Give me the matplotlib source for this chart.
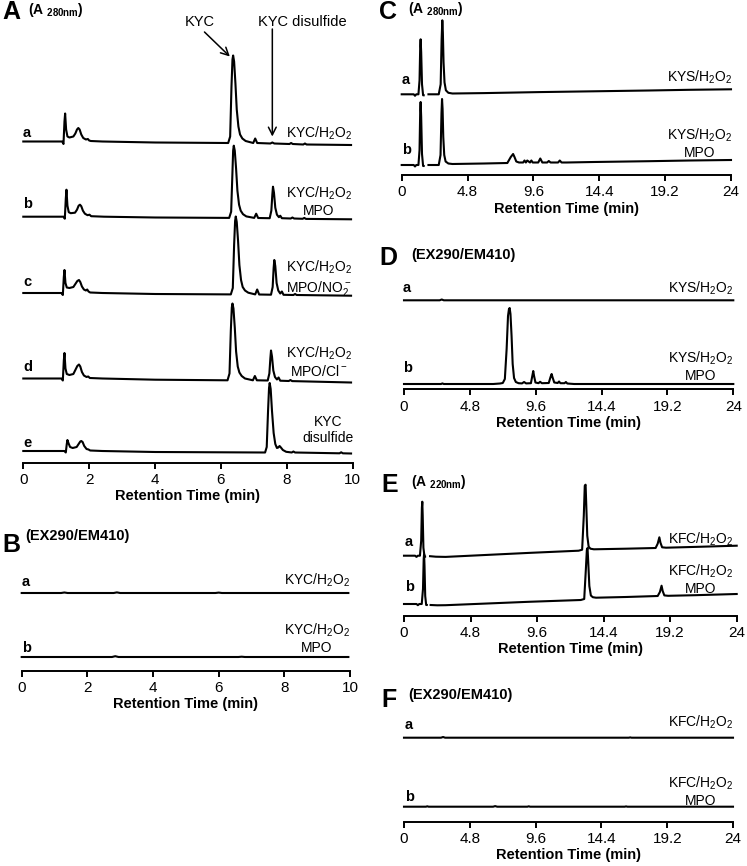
import numpy as np
import matplotlib
matplotlib.use('Agg')
import matplotlib.pyplot as plt

plt.rcParams['font.family'] = ['Liberation Sans', 'DejaVu Sans']
plt.rcParams['mathtext.fontset'] = 'custom'
plt.rcParams['mathtext.rm'] = 'Liberation Sans'
plt.rcParams['mathtext.it'] = 'Liberation Sans:italic'
plt.rcParams['mathtext.bf'] = 'Liberation Sans:bold'

W, H = 747, 866
nan = np.nan

# ---- panel A, A280 (time in min, signal in arbitrary units) ----
a_kyc_t = [0.00, 1.18, 1.22, 1.25, 1.27, 1.30, 1.34, 1.40, 1.52, 1.58, 1.63, 1.67, 1.71, 1.76, 1.82, 1.90,
           1.96, 2.00, 2.05, 2.40, 4.00, 6.22, 6.28, 6.32, 6.35, 6.37, 6.40, 6.44, 6.48, 6.53, 6.58, 6.65,
           6.75, 6.98, 7.04, 7.10, 7.50, 7.56, 7.62, 8.08, 8.13, 8.18, 8.50, 8.55, 8.60, 9.95]
a_kyc_y = [0, 0, -2.5, 20, 28, 12, 5, 4, 5, 8, 12, 13.5, 12, 7, 3.5, 2,
           2.5, 1, 0.5, 0, -1, -1.5, 5, 55, 82, 86, 80, 58, 32, 15, 7, 3,
           0.5, -1.5, 3, -1.5, -2, -1, -2, -2.5, -1.5, -2.5, -3, -2, -3, -3.5]

a_mpo_t = [0.00, 1.22, 1.26, 1.29, 1.31, 1.34, 1.38, 1.44, 1.57, 1.63, 1.68, 1.72, 1.76, 1.81, 1.87, 1.95,
           2.01, 2.06, 2.45, 4.00, 6.25, 6.31, 6.35, 6.37, 6.39, 6.42, 6.46, 6.50, 6.55, 6.60, 6.67, 6.77,
           7.01, 7.07, 7.13, 7.48, 7.53, 7.56, 7.58, 7.61, 7.65, 7.70, 7.76, 7.80, 7.85, 8.12, 8.17, 8.22,
           8.48, 8.53, 8.58, 9.95]
a_mpo_y = [0, 0, -2, 18, 27, 11, 4.5, 3.5, 4, 7, 11, 12, 10.5, 6, 3, 1.5,
           2, 0.5, 0, -0.8, -1.2, 5, 45, 66, 71, 66, 48, 26, 12, 6, 2.5, 0.3,
           -1.2, 3, -1.3, -1.5, 6, 22, 30, 24, 9, 2, -0.5, 1, -1.5, -1.8, -0.8, -1.8,
           -2.1, -1.2, -2.2, -2.6]

a_no2_t = [0.00, 1.16, 1.20, 1.23, 1.25, 1.28, 1.32, 1.40, 1.52, 1.58, 1.64, 1.69, 1.73, 1.78, 1.84, 1.90,
           1.94, 1.98, 2.03, 2.40, 4.00, 6.30, 6.36, 6.40, 6.43, 6.45, 6.48, 6.52, 6.56, 6.61, 6.66, 6.73,
           6.83, 7.04, 7.10, 7.16, 7.52, 7.57, 7.60, 7.62, 7.65, 7.69, 7.74, 7.80, 7.85, 7.90, 8.20, 8.25,
           8.30, 9.95]
a_no2_y = [0, 0, -2, 16, 23, 10, 5.5, 5, 6, 9, 12, 13, 11, 6.5, 3.5, 2.5,
           3.5, 1.5, 0.5, 0, -1, -1.4, 5, 48, 72, 76.5, 71, 52, 28, 13, 6, 2.5,
           0.3, -1.4, 3.5, -1.5, -1.7, 6, 25, 33, 27, 10, 2.5, -0.5, 1.5, -1.8, -2, -1,
           -2, -2.7]

a_cl_t = [0.00, 1.16, 1.20, 1.23, 1.25, 1.28, 1.32, 1.40, 1.52, 1.58, 1.64, 1.69, 1.73, 1.78, 1.84, 1.92,
          1.97, 2.02, 2.40, 4.00, 6.20, 6.26, 6.30, 6.33, 6.35, 6.38, 6.42, 6.46, 6.51, 6.56, 6.63, 6.73,
          6.97, 7.03, 7.09, 7.42, 7.47, 7.50, 7.52, 7.55, 7.59, 7.64, 7.70, 7.75, 7.80, 8.06, 8.11, 8.16, 9.95]
a_cl_y = [0, 0, -2, 18, 25.5, 10, 4.5, 3.5, 4.5, 8.5, 12.5, 14, 12, 6.5, 3, 1.5,
          2, 0.5, 0, -1.2, -1.8, 5, 48, 71, 75, 70, 51, 27, 12, 6, 2.5, 0,
          -1.8, 2.5, -1.8, -2, 5, 20, 28, 22, 8, 1.5, -1, 1, -2.2, -2.5, -1.5, -2.6, -4]

a_dis_t = [0.00, 1.25, 1.29, 1.32, 1.34, 1.37, 1.42, 1.50, 1.62, 1.68, 1.73, 1.76, 1.80, 1.85, 1.92, 1.98,
           2.03, 2.40, 4.00, 7.34, 7.39, 7.43, 7.46, 7.48, 7.51, 7.55, 7.60, 7.65, 7.70, 7.74, 7.78, 7.82,
           7.88, 7.98, 8.15, 8.20, 8.25, 9.60, 9.65, 9.70, 9.95]
a_dis_y = [0, 0, -1.5, 7, 11, 8, 4, 3, 4, 7, 9.5, 10, 9, 5, 2, 1.5,
           0.5, 0, -1, -1.5, 4, 40, 63, 68, 62, 40, 18, 7, 3, 3.5, 5, 3.5,
           1, -0.8, -1.5, -0.5, -1.5, -2.3, -1.3, -2.3, -2.5]

# ---- panel B, fluorescence EX290/EM410 ----
b_kyc_t = [0.00, 1.20, 1.30, 1.40, 2.80, 2.90, 3.00, 5.90, 6.00, 6.10, 9.95]
b_kyc_y = [0, 0, 0.5, 0, 0, 0.6, 0, 0, 0.4, 0, 0]
b_mpo_t = [0.00, 2.75, 2.85, 2.95, 6.60, 6.70, 6.80, 9.95]
b_mpo_y = [0, 0, 0.8, 0, 0, 0.3, 0, 0]

# ---- panel C, KYS A280 ----
c_kys_t = [0.00, 0.88, 0.97, 1.06, 1.22, 1.30, 1.35, 1.38, 1.42, 1.48, 1.56, 1.60, 1.61, 1.95, 2.70, 2.84,
           2.91, 2.96, 3.00, 3.05, 3.12, 3.22, 3.40, 3.70, 6.00, 10.00, 14.00, 18.00, 21.00, 24.00]
c_kys_y = [0, 0, -1.5, 0, 0, 14, 48, 55, 42, 10, -1, -1, nan, 0, 0, 10,
           55, 74, 62, 32, 12, 4, 1.5, 0.8, 1.2, 2.2, 3.0, 3.8, 4.5, 5.0]
c_mpo_t = [0.00, 0.88, 0.97, 1.06, 1.22, 1.30, 1.35, 1.38, 1.42, 1.48, 1.56, 1.60, 1.61, 1.95, 2.70, 2.83,
           2.90, 2.94, 2.98, 3.03, 3.10, 3.20, 3.40, 3.70, 6.00, 7.70, 7.95, 8.12, 8.22, 8.35, 8.55, 8.85,
           8.95, 9.05, 9.15, 9.35, 9.45, 9.55, 9.95, 10.10, 10.25, 10.60, 10.72, 10.85, 11.40, 11.52, 11.65,
           12.00, 14.00, 18.00, 21.00, 24.00]
c_mpo_y = [0, 0, -1.5, 0, 0, 15, 55, 63, 48, 11, -1, -1, nan, 0, 0, 10,
           52, 66, 56, 28, 10, 3.5, 1.5, 1, 1.5, 2, 8, 11, 8, 3.5, 2.5, 2.5,
           4.5, 2.5, 4.5, 2.5, 4.5, 2.5, 2.5, 6.5, 2.5, 2.5, 4, 2.5, 2.5, 4.5, 2.5,
           2.5, 3.0, 3.8, 4.5, 5.0]

# ---- panel D, KYS fluorescence ----
d_kys_t = [0.00, 2.60, 2.75, 2.90, 9.00, 24.00]
d_kys_y = [0, 0, 0.8, 0, 0, 0]
d_mpo_t = [0.00, 2.70, 2.80, 2.90, 6.50, 7.00, 7.20, 7.35, 7.48, 7.58, 7.65, 7.70, 7.76, 7.84, 7.92, 8.02,
           8.15, 8.35, 8.60, 8.75, 8.90, 9.25, 9.35, 9.42, 9.48, 9.58, 9.80, 9.92, 10.05, 10.55, 10.68,
           10.76, 10.82, 10.95, 11.20, 11.30, 11.40, 11.70, 11.80, 11.90, 12.40, 14.00, 24.00]
d_mpo_y = [0, 0, 0.6, 0, 0, 0.5, 1, 5, 35, 68, 75, 76, 70, 48, 20, 6,
           2, 0.8, 0.6, 2, 0.6, 0.8, 8, 13, 8, 1.5, 0.8, 2.2, 0.8, 1, 7,
           10, 7, 1.5, 1, 2.5, 0.8, 0.8, 2, 0.5, 0, 0, 0]

# ---- panel E, KFC A220 ----
e_kfc_t = [0.00, 0.80, 0.90, 1.00, 1.15, 1.24, 1.29, 1.32, 1.35, 1.40, 1.48, 1.52, 1.53, 1.88, 2.30, 3.00,
           6.00, 9.00, 12.60, 12.85, 12.97, 13.04, 13.10, 13.15, 13.22, 13.32, 13.45, 13.70, 16.00, 18.15,
           18.30, 18.42, 18.50, 18.62, 18.90, 21.00, 24.00]
e_kfc_y = [0, 0, -1.2, 0, 0, 15, 48, 54, 40, 8, -1, -1, nan, -0.5, -1, -1.2,
           0.8, 2.8, 5, 6, 40, 70, 71, 50, 20, 9, 7, 6.4, 7, 7.7,
           12, 18.4, 13, 8.4, 8, 8.8, 10]
e_mpo_t = [0.00, 0.90, 1.00, 1.10, 1.28, 1.37, 1.42, 1.45, 1.48, 1.53, 1.60, 1.64, 1.65, 1.92, 2.40, 3.00,
           6.00, 9.00, 12.75, 13.00, 13.12, 13.19, 13.24, 13.29, 13.37, 13.48, 13.62, 13.85, 16.00, 18.30,
           18.46, 18.58, 18.66, 18.78, 19.05, 21.00, 24.00]
e_mpo_y = [0, 0, -1.2, 0, 0, 15, 45, 50, 38, 8, -1, -1, nan, -1, -1.3, -1.2,
           0.5, 2.2, 4, 5, 35, 54, 56, 42, 18, 8.5, 6.8, 6.3, 7, 8,
           12, 18.3, 13, 8.6, 8.2, 8.8, 10]

# ---- panel F, KFC fluorescence ----
f_kfc_t = [0.00, 2.70, 2.85, 3.00, 16.40, 16.50, 16.60, 24.00]
f_kfc_y = [0, 0, 0.7, 0, 0, 0.3, 0, 0]
f_mpo_t = [0.00, 1.60, 1.70, 1.80, 6.50, 6.65, 6.80, 9.00, 9.10, 9.20, 16.10, 16.20, 16.30, 24.00]
f_mpo_y = [0, 0, 0.4, 0, 0, 0.6, 0, 0, 0.4, 0, 0, 0.3, 0, 0]

ticks_10 = [0, 2, 4, 6, 8, 10]
ticks_24 = [0, 4.8, 9.6, 14.4, 19.2, 24]
ticklabels_24 = ['0', '4.8', '9.6', '14.4', '19.2', '24']

KYC = 'KYC/H$_2$O$_2$'
KYS = 'KYS/H$_2$O$_2$'
KFC = 'KFC/H$_2$O$_2$'

fig = plt.figure(figsize=(W / 100, H / 100), dpi=100)


def panel(left, right, axis_y, top_y, xmax, ticks, labels=None):
    ax = fig.add_axes([left / W, 1 - axis_y / H, (right - left) / W, (axis_y - top_y) / H])
    ax.set_xlim(0, xmax)
    ax.set_ylim(0, axis_y - top_y)   # one unit = one pixel above the axis line
    for s in ['top', 'right', 'left']:
        ax.spines[s].set_visible(False)
    ax.spines['bottom'].set_linewidth(1.4)
    ax.set_yticks([])
    ax.set_xticks(ticks)
    if labels is not None:
        ax.set_xticklabels(labels)
    ax.tick_params(axis='x', direction='out', length=4, width=1.4, pad=3.5, labelsize=11)
    ax.set_xlabel('Retention Time (min)', fontweight='bold', fontsize=10.5, labelpad=1.5)
    ax.patch.set_alpha(0)
    return ax


def trace(ax, t, y, offset):
    ax.plot(t, np.asarray(y, float) + offset, color='black', lw=1.5, clip_on=False)


def txt(x, y, s, **kw):
    fig.text(x / W, 1 - y / H, s, **kw)


# panel A
axA = panel(23.3, 352.7, 463, 0, 10, ticks_10)
offA = [321.5, 246.3, 170, 84.5, 12]
for (t, y), off in zip([(a_kyc_t, a_kyc_y), (a_mpo_t, a_mpo_y), (a_no2_t, a_no2_y),
                        (a_cl_t, a_cl_y), (a_dis_t, a_dis_y)], offA):
    trace(axA, t, y, off)

arrow = dict(arrowstyle='->,head_length=0.55,head_width=0.28', lw=1.1, color='black', shrinkA=0, shrinkB=0)
i = int(np.argmax(a_kyc_y))
axA.annotate('', xy=(a_kyc_t[i] - 0.1, offA[0] + a_kyc_y[i] - 1), xytext=(5.5, 431),
             arrowprops=arrow, annotation_clip=False)
j = int(np.argmax(a_mpo_y[30:])) + 30
axA.annotate('', xy=(a_mpo_t[j] - 0.02, offA[0] + 5), xytext=(a_mpo_t[j] - 0.02, 434),
             arrowprops=arrow, annotation_clip=False)
txt(200, 22, 'KYC', fontsize=10.5, ha='center', va='center')
txt(302, 22, 'KYC disulfide', fontsize=10.5, ha='center', va='center')

# panel B
axB = panel(21.7, 350, 670.7, 560, 10, ticks_10)
offB = [77.7, 13.7]
trace(axB, b_kyc_t, b_kyc_y, offB[0])
trace(axB, b_mpo_t, b_mpo_y, offB[1])

# panel C
axC = panel(401.7, 731, 175, 0, 24, ticks_24, ticklabels_24)
offC = [80.7, 10]
trace(axC, c_kys_t, c_kys_y, offC[0])
trace(axC, c_mpo_t, c_mpo_y, offC[1])

# panel D
axD = panel(404, 733.3, 389.3, 270, 24, ticks_24, ticklabels_24)
offD = [89, 5.3]
trace(axD, d_kys_t, d_kys_y, offD[0])
trace(axD, d_mpo_t, d_mpo_y, offD[1])

# panel E
axE = panel(404, 736.7, 615.7, 470, 24, ticks_24, ticklabels_24)
offE = [60, 11.7]
trace(axE, e_kfc_t, e_kfc_y, offE[0])
trace(axE, e_mpo_t, e_mpo_y, offE[1])

# panel F
axF = panel(404, 733, 821.7, 710, 24, ticks_24, ticklabels_24)
offF = [84, 15]
trace(axF, f_kfc_t, f_kfc_y, offF[0])
trace(axF, f_mpo_t, f_mpo_y, offF[1])

# panel letters and detector labels
big = dict(fontsize=18, fontweight='bold', ha='left', va='center')
det = dict(fontsize=10, fontweight='bold', ha='left', va='center')
txt(2, 12, 'A', **big)
txt(28, 10, r'(A $_{\mathbf{280nm}}$)', **det)
txt(2, 545, 'B', **big)
txt(25, 536, '(EX290/EM410)', fontsize=10.5, fontweight='bold', ha='left', va='center')
txt(379, 12, 'C', **big)
txt(408, 9, r'(A $_{\mathbf{280nm}}$)', **det)
txt(379, 258, 'D', **big)
txt(411, 255, '(EX290/EM410)', fontsize=10.5, fontweight='bold', ha='left', va='center')
txt(381, 485, 'E', **big)
txt(411, 482, r'(A $_{\mathbf{220nm}}$)', **det)
txt(381, 700, 'F', **big)
txt(408, 695, '(EX290/EM410)', fontsize=10.5, fontweight='bold', ha='left', va='center')

# trace letters
let = dict(fontsize=10.5, fontweight='bold', ha='left', va='center')
for x, y, s in [(23, 133, 'a'), (23, 204, 'b'), (23, 282, 'c'), (23, 367, 'd'), (23, 443, 'e'),
                (21.7, 582, 'a'), (21.7, 648, 'b'),
                (401.7, 80, 'a'), (401.7, 150, 'b'),
                (403, 288, 'a'), (403, 368, 'b'),
                (405, 542, 'a'), (405, 587, 'b'),
                (405, 725, 'a'), (405, 797, 'b')]:
    txt(x, y, s, **let)

# condition labels
cond = dict(fontsize=10, ha='right', va='center', multialignment='center')
for x, y, s in [(352, 133, KYC), (352, 201, KYC + '\nMPO'), (352, 278, KYC + '\nMPO/NO$_2^-$'),
                (352, 362, KYC + '\nMPO/Cl$^-$'), (354, 430, 'KYC\ndisulfide'),
                (350, 580, KYC), (350, 638, KYC + '\nMPO'),
                (732, 77, KYS), (732, 143, KYS + '\nMPO'),
                (733, 288, KYS), (733, 366, KYS + '\nMPO'),
                (733, 539, KFC), (733, 579, KFC + '\nMPO'),
                (733, 722, KFC), (733, 791, KFC + '\nMPO')]:
    txt(x, y, s, **cond)

fig.savefig('out.png', dpi=100)
